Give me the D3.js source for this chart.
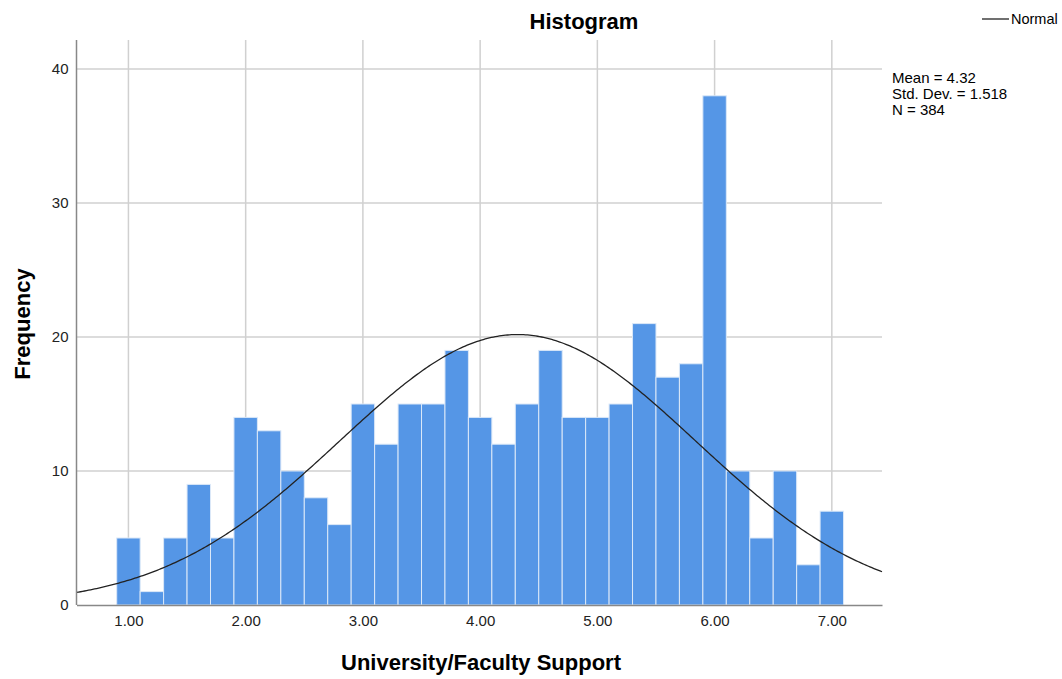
<!DOCTYPE html>
<html><head><meta charset="utf-8">
<script src="https://cdn.jsdelivr.net/npm/d3@7"></script>
<style>body{margin:0;background:#fff}svg text{font-family:"Liberation Sans",Arial,sans-serif}</style>
</head><body><svg id="c" width="1062" height="679"></svg>
<script>
const binCenters = [1.0,1.2,1.4,1.6,1.8,2.0,2.2,2.4,2.6,2.8,3.0,3.2,3.4,3.6,3.8,4.0,4.2,4.4,4.6,4.8,5.0,5.2,5.4,5.6,5.8,6.0,6.2,6.4,6.6,6.8,7.0];
const frequencies = [5,1,5,9,5,14,13,10,8,6,15,12,15,15,19,14,12,15,19,14,14,15,21,17,18,38,10,5,10,3,7];
const binWidth = 0.2;
const xTicks = [1,2,3,4,5,6,7];
const yTicks = [0,10,20,30,40];
const stats = {mean:4.32, sd:1.518, n:384};
const statLines = ["Mean = 4.32","Std. Dev. = 1.518","N = 384"];

const svg = d3.select("#c");
const L=76.5,R=882,T=40,B=605;
const x = d3.scaleLinear().domain([0.557,7.428]).range([L,R]);
const y = d3.scaleLinear().domain([0,40]).range([B,B-4*134]);

// grid
svg.append("g").selectAll("line").data(xTicks).join("line")
  .attr("x1",d=>x(d)).attr("x2",d=>x(d)).attr("y1",T).attr("y2",B)
  .attr("stroke","#d0d0d0").attr("stroke-width",1.5);
svg.append("g").selectAll("line").data(yTicks.filter(d=>d>0)).join("line")
  .attr("x1",L).attr("x2",R).attr("y1",d=>y(d)).attr("y2",d=>y(d))
  .attr("stroke","#d0d0d0").attr("stroke-width",1.5);

// bars
svg.append("g").selectAll("rect").data(binCenters).join("rect")
  .attr("x",(d)=>x(d-binWidth/2))
  .attr("width",(d)=>x(d+binWidth/2)-x(d-binWidth/2))
  .attr("y",(d,i)=>y(frequencies[i]))
  .attr("height",(d,i)=>y(0)-y(frequencies[i]))
  .attr("fill","#5596e6").attr("stroke","#dbe8f8").attr("stroke-width",1);

// normal curve
const xs = d3.range(0,401).map(i=>x.domain()[0]+(x.domain()[1]-x.domain()[0])*i/400);
const dens = v => stats.n*binWidth/(stats.sd*Math.sqrt(2*Math.PI))*Math.exp(-0.5*((v-stats.mean)/stats.sd)**2);
svg.append("path").datum(xs)
  .attr("d",d3.line().x(v=>x(v)).y(v=>y(dens(v))))
  .attr("fill","none").attr("stroke","#222").attr("stroke-width",1.3);

// axes
const xa = svg.append("g").attr("transform",`translate(0,${B})`)
  .call(d3.axisBottom(x).tickValues(xTicks).tickFormat(d3.format(".2f")).tickSize(0).tickPadding(10));
xa.select(".domain").attr("stroke","#888").attr("stroke-width",1.5);
xa.selectAll("text").attr("font-size",15).attr("fill","#222");
const ya = svg.append("g").attr("transform",`translate(${L},0)`)
  .call(d3.axisLeft(y).tickValues(yTicks).tickSize(0).tickPadding(8));
ya.select(".domain").attr("d",`M0,${T}V${B}`).attr("stroke","#888").attr("stroke-width",1.5);
ya.selectAll("text").attr("font-size",15).attr("fill","#222");

// titles
svg.append("text").attr("x",584).attr("y",29).attr("text-anchor","middle")
  .attr("font-size",22).attr("font-weight","bold").text("Histogram");
svg.append("text").attr("x",481).attr("y",670).attr("text-anchor","middle")
  .attr("font-size",22).attr("font-weight","bold").text("University/Faculty Support");
svg.append("text").attr("transform","translate(30,324) rotate(-90)").attr("text-anchor","middle")
  .attr("font-size",22).attr("font-weight","bold").text("Frequency");

// legend
svg.append("line").attr("x1",982).attr("x2",1009).attr("y1",19).attr("y2",19).attr("stroke","#222").attr("stroke-width",1.3);
svg.append("text").attr("x",1011).attr("y",24).attr("font-size",14.5).text("Normal");
svg.append("g").selectAll("text").data(statLines).join("text")
  .attr("x",892).attr("y",(d,i)=>83+i*16).attr("font-size",15).text(d=>d);
</script></body></html>
